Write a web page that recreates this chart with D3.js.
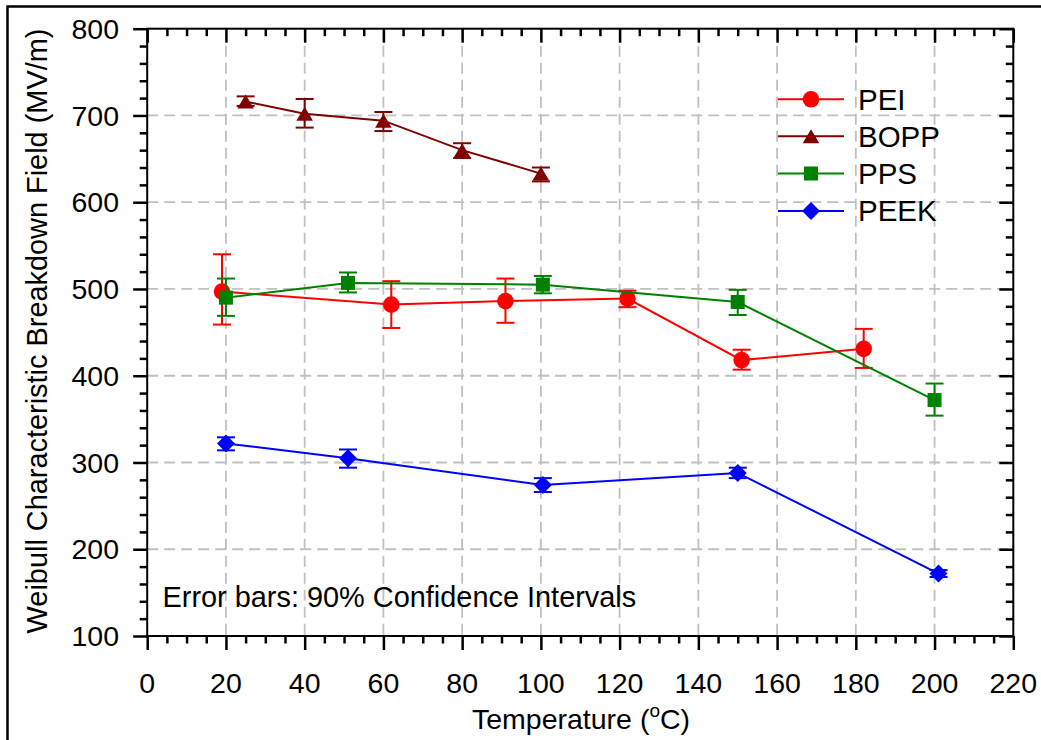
<!DOCTYPE html>
<html>
<head>
<meta charset="utf-8">
<script src="https://cdnjs.cloudflare.com/ajax/libs/d3/7.8.5/d3.min.js"></script>
<style>
body { margin: 0; background: #fff; }
svg { display: block; font-family: "Liberation Sans", Arial, sans-serif; }
</style>
</head>
<body>
<div id="viz"></div>
<script>
// Weibull breakdown field vs temperature, four films, 90% CI error bars.
// Values.

var XTicks = [0, 20, 40, 60, 80, 100, 120, 140, 160, 180, 200, 220];
var YTicks = [100, 200, 300, 400, 500, 600, 700, 800];

var SeriesNames = ["PEI", "BOPP", "PPS", "PEEK"];

var Temp_PEI  = [19, 62, 91, 122, 151, 182];
var Field_PEI = [497, 482, 486, 489, 418, 431];
var Low_PEI   = [459, 455, 461, 479, 407, 409];
var High_PEI  = [540, 509, 512, 498, 430, 454];

var Temp_BOPP  = [25, 40, 60, 80, 100];
var Field_BOPP = [716, 702, 694, 660, 633];
var Low_BOPP   = [711, 686, 682, 651, 624];
var High_BOPP  = [722, 719, 704, 668, 640];

var Temp_PPS  = [20, 51, 100.5, 150, 200];
var Field_PPS = [490, 507, 505, 485, 372];
var Low_PPS   = [469, 496, 495, 470, 354];
var High_PPS  = [512, 519, 515, 499, 391];

var Temp_PEEK  = [20, 51, 100.5, 150, 201];
var Field_PEEK = [322, 305, 274, 288, 172];
var Low_PEEK   = [314, 294, 266, 282, 168];
var High_PEEK  = [329, 315, 282, 294, 176];

var Series = [
    {name: SeriesNames[0], color: "#ff0000", shape: "circle",   t: Temp_PEI,  v: Field_PEI,  lo: Low_PEI,  hi: High_PEI},
    {name: SeriesNames[1], color: "#800000", shape: "triangle", t: Temp_BOPP, v: Field_BOPP, lo: Low_BOPP, hi: High_BOPP},
    {name: SeriesNames[2], color: "#008000", shape: "square",   t: Temp_PPS,  v: Field_PPS,  lo: Low_PPS,  hi: High_PPS},
    {name: SeriesNames[3], color: "#0000ff", shape: "diamond",  t: Temp_PEEK, v: Field_PEEK, lo: Low_PEEK, hi: High_PEEK}
];

var W = 1041, H = 740;
var x = d3.scaleLinear().domain([0, 220]).range([147.2, 1013.3]);
var y = d3.scaleLinear().domain([100, 800]).range([636, 28.7]);

function add_marker(g, shape, cx, cy, color) {
    var m;
    if (shape == "circle") {
        m = g.append("circle").attr("cx", cx).attr("cy", cy).attr("r", 8.3);
    } else if (shape == "square") {
        m = g.append("rect").attr("x", cx - 7).attr("y", cy - 7).attr("width", 14).attr("height", 14);
    } else if (shape == "triangle") {
        m = g.append("path").attr("d", "M" + cx + "," + (cy - 7) + "L" + (cx + 8.3) + "," + (cy + 7) + "L" + (cx - 8.3) + "," + (cy + 7) + "Z");
    } else {
        m = g.append("path").attr("d", "M" + cx + "," + (cy - 9) + "L" + (cx + 9) + "," + cy + "L" + cx + "," + (cy + 9) + "L" + (cx - 9) + "," + cy + "Z");
    }
    m.attr("fill", color);
    return m;
}

function add_text(g, str, tx, ty, size, anchor) {
    return g.append("text")
        .attr("x", tx).attr("y", ty)
        .attr("text-anchor", anchor || "start")
        .style("font-size", size + "px")
        .text(str);
}

function main() {
    var svg = d3.select("#viz").append("svg")
        .attr("width", W)
        .attr("height", H);

    svg.append("rect").attr("width", W).attr("height", H).attr("fill", "#fff");

    // outer frame, runs off the right and bottom edges
    svg.append("rect")
        .attr("x", 7.5).attr("y", 6.5)
        .attr("width", 2000).attr("height", 2000)
        .attr("fill", "none").attr("stroke", "#000").attr("stroke-width", 2.5);

    // grid
    var grid = svg.append("g")
        .attr("stroke", "#c0c0c0").attr("stroke-width", 1.8).attr("stroke-dasharray", "11,6");
    grid.selectAll("line.gx").data(XTicks.slice(1, -1)).enter().append("line")
        .attr("x1", function(d) { return x(d); }).attr("x2", function(d) { return x(d); })
        .attr("y1", y(800)).attr("y2", y(100));
    grid.selectAll("line.gy").data(YTicks.slice(1, -1)).enter().append("line")
        .attr("y1", function(d) { return y(d); }).attr("y2", function(d) { return y(d); })
        .attr("x1", x(0)).attr("x2", x(220));

    // series
    var line = d3.line().x(function(d) { return x(d[0]); }).y(function(d) { return y(d[1]); });
    for (var s in Series) {
        var S = Series[s];
        var pts = S.t.map(function(t, i) { return [t, S.v[i]]; });
        var g = svg.append("g");
        g.append("path").attr("d", line(pts))
            .attr("fill", "none").attr("stroke", S.color).attr("stroke-width", 2);
        for (var i = 0; i < S.t.length; ++i) {
            var cx = x(S.t[i]);
            var eb = g.append("g").attr("stroke", S.color).attr("stroke-width", 2);
            eb.append("line").attr("x1", cx).attr("x2", cx).attr("y1", y(S.lo[i])).attr("y2", y(S.hi[i]));
            eb.append("line").attr("x1", cx - 9).attr("x2", cx + 9).attr("y1", y(S.lo[i])).attr("y2", y(S.lo[i]));
            eb.append("line").attr("x1", cx - 9).attr("x2", cx + 9).attr("y1", y(S.hi[i])).attr("y2", y(S.hi[i]));
        }
        for (var i = 0; i < S.t.length; ++i)
            add_marker(g, S.shape, x(S.t[i]), y(S.v[i]), S.color);
    }

    // plot frame
    svg.append("rect")
        .attr("x", x(0)).attr("y", y(800))
        .attr("width", x(220) - x(0)).attr("height", y(100) - y(800))
        .attr("fill", "none").attr("stroke", "#000").attr("stroke-width", 2);

    var XMinor = d3.range(0, 221, 5).filter(function(d) { return d % 20 != 0; });
    var YMinor = d3.range(100, 801, 20).filter(function(d) { return d % 100 != 0; });

    function ticks(axis, vals, size, at) {
        var a = svg.append("g").attr("transform", at)
            .call(axis.tickValues(vals).tickSize(size).tickSizeOuter(0).tickFormat(""));
        a.select(".domain").remove();
        a.selectAll("line").attr("stroke-width", 2.5);
    }
    // bottom and left point out, top and right point in
    ticks(d3.axisBottom(x), XTicks, 14, "translate(0," + y(100) + ")");
    ticks(d3.axisBottom(x), XMinor, 7.5, "translate(0," + y(100) + ")");
    ticks(d3.axisBottom(x), XTicks, 14, "translate(0," + y(800) + ")");
    ticks(d3.axisBottom(x), XMinor, 7.5, "translate(0," + y(800) + ")");
    ticks(d3.axisLeft(y), YTicks, 14, "translate(" + x(0) + ",0)");
    ticks(d3.axisLeft(y), YMinor, 7.5, "translate(" + x(0) + ",0)");
    ticks(d3.axisLeft(y), YTicks, 14, "translate(" + x(220) + ",0)");
    ticks(d3.axisLeft(y), YMinor, 7.5, "translate(" + x(220) + ",0)");

    // tick labels
    var labels = svg.append("g").attr("fill", "#000");
    XTicks.forEach(function(d) { add_text(labels, d, x(d), 692.5, 28.5, "middle"); });
    YTicks.forEach(function(d) { add_text(labels, d, 119, y(d) + 10.2, 28.5, "end"); });

    // axis titles
    var xt = svg.append("text")
        .attr("x", 581).attr("y", 729)
        .attr("text-anchor", "middle")
        .style("font-size", "28.5px");
    xt.append("tspan").text("Temperature (");
    xt.append("tspan").text("o").attr("dy", -12).style("font-size", "19px");
    xt.append("tspan").text("C)").attr("dy", 12);

    svg.append("text")
        .attr("transform", "translate(47,331) rotate(-90)")
        .attr("text-anchor", "middle")
        .style("font-size", "28.9px")
        .text("Weibull Characteristic Breakdown Field (MV/m)");

    add_text(svg, "Error bars: 90% Confidence Intervals", 162.5, 607.3, 28.9);

    // legend
    var leg = svg.append("g");
    var LegendY = [99.3, 136.3, 173.5, 211];
    Series.forEach(function(S, i) {
        var ly = LegendY[i];
        leg.append("line").attr("x1", 778).attr("x2", 844).attr("y1", ly).attr("y2", ly)
            .attr("stroke", S.color).attr("stroke-width", 2);
        add_marker(leg, S.shape, 811, ly, S.color);
        add_text(leg, S.name, 858, ly + 10.3, 29.5);
    });
}

main();
</script>
</body>
</html>
